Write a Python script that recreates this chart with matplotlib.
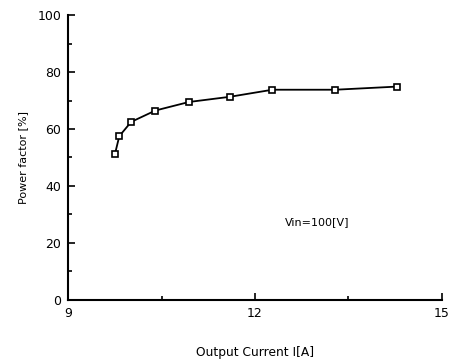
import numpy as np
import matplotlib.pyplot as plt
from matplotlib.ticker import MultipleLocator

# measured points (output current vs power factor)
current = [9.75, 9.82, 10.01, 10.40, 10.94, 11.59, 12.28, 13.29, 14.28]
pf = [51.2, 57.5, 62.5, 66.5, 69.5, 71.3, 73.8, 73.8, 74.9]

fig = plt.figure(figsize=(4.49, 3.6), dpi=100)
ax = fig.add_axes([0.152, 0.167, 0.832, 0.791])

ax.plot(current, pf, color='black', lw=1.3, marker='s', ms=5,
        mfc='white', mec='black', mew=1.2)

ax.set_xlim(9, 15)
ax.set_ylim(0, 100)
ax.xaxis.set_major_locator(MultipleLocator(3))
ax.xaxis.set_minor_locator(MultipleLocator(1.5))
ax.yaxis.set_major_locator(MultipleLocator(20))
ax.yaxis.set_minor_locator(MultipleLocator(10))
ax.tick_params(which='both', direction='in', width=1.2, labelsize=9)
ax.tick_params(which='major', length=5, pad=5)
ax.tick_params(which='minor', length=3)

for s in ['top', 'right']:
    ax.spines[s].set_visible(False)
for s in ['left', 'bottom']:
    ax.spines[s].set_linewidth(1.5)

ax.text(13.0, 27.4, 'Vin=100[V]', fontsize=8, ha='center', va='center')
ax.set_ylabel('Power factor [%]', fontsize=8, labelpad=7)
ax.set_xlabel('Output Current I[A]', fontsize=8.8, labelpad=19)

fig.savefig('out.png', dpi=100)
